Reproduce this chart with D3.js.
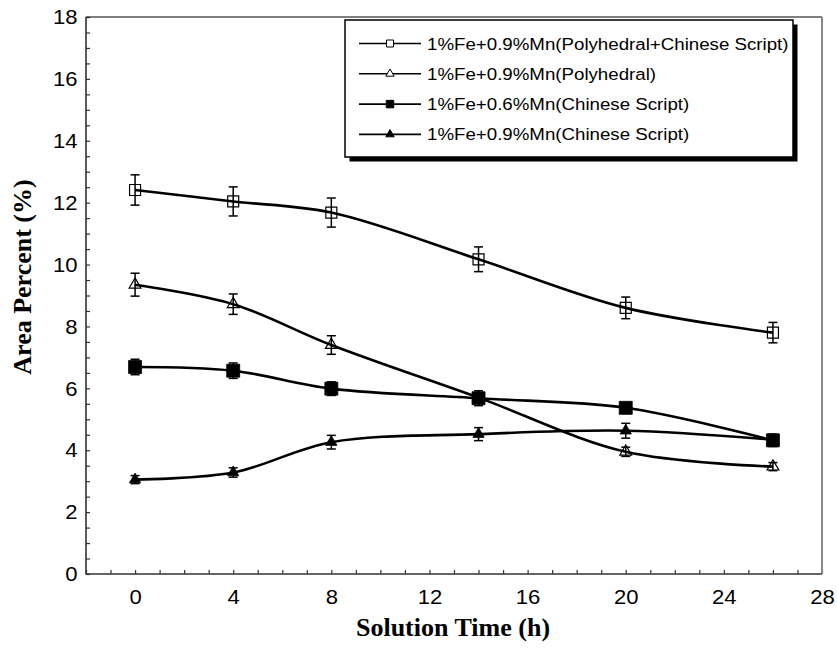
<!DOCTYPE html>
<html>
<head>
<meta charset="utf-8">
<script src="https://cdn.jsdelivr.net/npm/d3@7"></script>
<style>
html,body{margin:0;padding:0;background:#fff;}
svg{display:block;}
</style>
</head>
<body>
<svg id="chart" width="837" height="652"></svg>
<script>
// ---------- data ----------
const times = [0, 4, 8, 14, 20, 26];
const seriesNames = [
  "1%Fe+0.9%Mn(Polyhedral+Chinese Script)",
  "1%Fe+0.9%Mn(Polyhedral)",
  "1%Fe+0.6%Mn(Chinese Script)",
  "1%Fe+0.9%Mn(Chinese Script)"
];
const polyChinese09 = [12.41, 12.04, 11.68, 10.17, 8.60, 7.80];
const polyChinese09Err = [0.49, 0.47, 0.47, 0.40, 0.35, 0.33];
const poly09 = [9.35, 8.72, 7.40, 5.70, 3.95, 3.47];
const poly09Err = [0.37, 0.33, 0.30, 0.15, 0.15, 0.13];
const chinese06 = [6.69, 6.57, 5.99, 5.68, 5.37, 4.32];
const chinese06Err = [0.25, 0.25, 0.22, 0.24, 0.10, 0.20];
const chinese09 = [3.05, 3.28, 4.26, 4.52, 4.63, 4.34];
const chinese09Err = [0.13, 0.15, 0.22, 0.21, 0.24, 0.15];
const xTickLabels = [0, 4, 8, 12, 16, 20, 24, 28];
const yTickLabels = [0, 2, 4, 6, 8, 10, 12, 14, 16, 18];
const xTitle = "Solution Time (h)";
const yTitle = "Area Percent (%)";

// ---------- layout ----------
const svg = d3.select("#chart");
const L = 86, R = 822, T = 17, B = 574;
const x = d3.scaleLinear().domain([-2, 28]).range([L, R]);
const y = d3.scaleLinear().domain([0, 18]).range([B, T]);
const SANS = "'Liberation Sans', Arial, Helvetica, sans-serif";
const SERIF = "'Liberation Serif', 'Times New Roman', Times, serif";

// series definitions (draw order)
const series = [
  {name: seriesNames[0], vals: polyChinese09, err: polyChinese09Err, shape: "square", fill: "none", size: 121, lsize: 49},
  {name: seriesNames[1], vals: poly09, err: poly09Err, shape: "triangle", fill: "none", size: 60, lsize: 30},
  {name: seriesNames[3], vals: chinese09, err: chinese09Err, shape: "triangle", fill: "#000", size: 55, lsize: 30},
  {name: seriesNames[2], vals: chinese06, err: chinese06Err, shape: "square", fill: "#000", size: 169, lsize: 56}
];
const legendOrder = [0, 1, 3, 2];

// ---------- axes ----------
const xAxis = d3.axisBottom(x)
  .tickValues(d3.range(-2, 29, 1))
  .tickSize(-4).tickPadding(15)
  .tickFormat(d => xTickLabels.includes(d) ? String(d) : "");
const gx = svg.append("g").attr("transform", `translate(0,${B})`).call(xAxis);
const yAxis = d3.axisLeft(y)
  .tickValues(d3.range(0, 18.01, 0.5))
  .tickSize(-4).tickPadding(8)
  .tickFormat(d => yTickLabels.includes(d) ? String(d) : "");
const gy = svg.append("g").attr("transform", `translate(${L},0)`).call(yAxis);
[gx, gy].forEach(g => {
  g.select(".domain").remove();
  g.selectAll(".tick line").attr("stroke", "#333").attr("stroke-width", 1.2);
  g.selectAll(".tick text")
    .attr("font-family", SANS).attr("font-size", 21).attr("fill", "#000");
});
gx.selectAll(".tick text").attr("transform", "scale(1.05,1)");
gy.selectAll(".tick text").attr("transform", "scale(1.05,1)");

// frame
svg.append("line").attr("x1", L).attr("x2", R).attr("y1", T).attr("y2", T).attr("stroke", "#000").attr("stroke-width", 1.2);
svg.append("line").attr("x1", R).attr("x2", R).attr("y1", T).attr("y2", B).attr("stroke", "#888").attr("stroke-width", 2);
svg.append("line").attr("x1", L).attr("x2", L).attr("y1", T).attr("y2", B + 0.6).attr("stroke", "#333").attr("stroke-width", 1.6);
svg.append("line").attr("x1", L).attr("x2", R).attr("y1", B).attr("y2", B).attr("stroke", "#333").attr("stroke-width", 1.6);

// ---------- series ----------
const line = d3.line().x((d, i) => x(times[i])).y(d => y(d)).curve(d3.curveCatmullRom.alpha(0.5));
const symFor = s => d3.symbol().type(s.shape === "square" ? d3.symbolSquare : d3.symbolTriangle);

series.forEach(s => {
  svg.append("path").attr("d", line(s.vals))
    .attr("fill", "none").attr("stroke", "#000").attr("stroke-width", 2.6);
});
series.forEach(s => {
  const g = svg.append("g");
  s.vals.forEach((v, i) => {
    const cx = x(times[i]);
    const y1 = y(v + s.err[i]), y2 = y(v - s.err[i]);
    g.append("line").attr("x1", cx).attr("x2", cx).attr("y1", y1).attr("y2", y2).attr("stroke", "#000").attr("stroke-width", 1.5);
    g.append("line").attr("x1", cx - 4.5).attr("x2", cx + 4.5).attr("y1", y1).attr("y2", y1).attr("stroke", "#000").attr("stroke-width", 1.5);
    g.append("line").attr("x1", cx - 4.5).attr("x2", cx + 4.5).attr("y1", y2).attr("y2", y2).attr("stroke", "#000").attr("stroke-width", 1.5);
    g.append("path").attr("d", symFor(s).size(s.size)())
      .attr("transform", `translate(${cx},${y(v)})`)
      .attr("fill", s.fill).attr("stroke", "#000").attr("stroke-width", s.fill === "none" ? 1.2 : 0.8);
  });
});

// ---------- legend ----------
const lx = 345, ly = 20, lw = 448, lh = 137;
svg.append("rect").attr("x", lx + 4.5).attr("y", ly + 4.5).attr("width", lw).attr("height", lh).attr("fill", "#000");
svg.append("rect").attr("x", lx).attr("y", ly).attr("width", lw).attr("height", lh)
  .attr("fill", "#fff").attr("stroke", "#000").attr("stroke-width", 1.5);
legendOrder.forEach((si, k) => {
  const s = series[si];
  const cy = 43.5 + k * 30.3;
  svg.append("line").attr("x1", 359).attr("x2", 421).attr("y1", cy).attr("y2", cy).attr("stroke", "#000").attr("stroke-width", 1.6);
  svg.append("path").attr("d", symFor(s).size(s.lsize)())
    .attr("transform", `translate(390,${cy})`)
    .attr("fill", s.fill === "none" ? "#fff" : "#000").attr("stroke", "#000").attr("stroke-width", 1);
  svg.append("text").attr("transform", `translate(427,${cy + 6}) scale(1.1,1)`)
    .attr("font-family", SANS).attr("font-size", 17).attr("fill", "#000")
    .text(s.name);
});

// ---------- titles ----------
svg.append("text").attr("x", 453).attr("y", 636).attr("text-anchor", "middle")
  .attr("font-family", SERIF).attr("font-weight", "bold").attr("font-size", 26).text(xTitle);
svg.append("text").attr("transform", "translate(31,277) rotate(-90)").attr("text-anchor", "middle")
  .attr("font-family", SERIF).attr("font-weight", "bold").attr("font-size", 26).text(yTitle);
</script>
</body>
</html>
